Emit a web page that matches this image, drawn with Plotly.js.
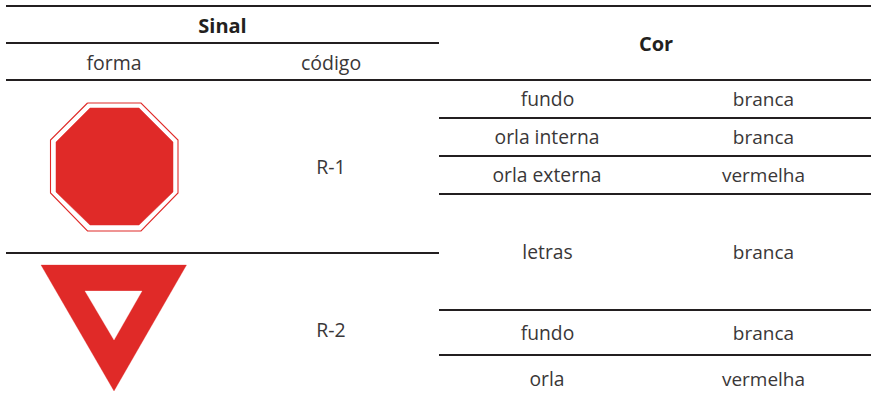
<!DOCTYPE html>
<html><head><meta charset="utf-8"><script src="https://cdn.plot.ly/plotly-3.0.1.min.js"></script>
<style>html,body{margin:0;padding:0;background:#fff}</style></head><body><div id="c" style="width:871px;height:400px"></div>
<script>
const rules = [[6,871,6],[6,439,43],[6,871,80],[439,871,118],[439,871,156],[439,871,194],[6,439,253],[439,871,310],[439,871,355]];
const headTexts = ["Sinal","Cor"], headX = [222.5,656], headY = [28,46];
const subTexts = ["forma","código","R-1","R-2"], subX = [114,331,331,331], subY = [65,65,169,332];
const col3 = ["fundo","orla interna","orla externa","letras","fundo","orla"];
const col3X = [547.5,547,547,547.5,547.5,547];
const col4 = ["branca","branca","vermelha","branca","branca","vermelha"];
const col4X = [763.5,763.5,763.5,763.5,763.5,763.5];
const rowY = [101,139,177,254,335,381];
const octOuterX = [87.5,141,178,178,141,87.5,50.5,50.5,87.5], octOuterY = [103,103,140,193,231,231,193,140,103];
const octInnerX = [90,139,173,173,139,90,56,56,90], octInnerY = [108,108,142,192,225,225,192,142,108];
const triX = [41,186.5,114,41], triY = [265,265,391,265];
const triHoleX = [85,142,114,85], triHoleY = [291,291,340,291];
const RED = "#e02a28", INK = "#231f20", TEXT = "#3a3738", FONT = "'Open Sans', sans-serif";
const poly = (x,y,fill,line,w) => ({type:"scatter",mode:"lines",x,y,fill:"toself",fillcolor:fill,line:{color:line,width:w},hoverinfo:"skip",showlegend:false});
const traces = rules.map(r => ({type:"scatter",mode:"lines",x:[r[0],r[1]],y:[r[2],r[2]],line:{color:INK,width:2},hoverinfo:"skip",showlegend:false}));
traces.push(poly(octOuterX,octOuterY,"#ffffff",RED,1.1));
traces.push(poly(octInnerX,octInnerY,RED,RED,0.5));
traces.push(poly(triX,triY,RED,RED,0.3));
traces.push(poly(triHoleX,triHoleY,"#ffffff","#ffffff",0.3));
const txt = (text,x,y,size,bold,color) => ({type:"scatter",mode:"text",x,y,text,textposition:"middle center",textfont:{family:FONT,size,color,weight:bold?700:400},hoverinfo:"skip",showlegend:false});
traces.push(txt(headTexts,headX,headY,20,true,INK));
traces.push(txt(subTexts,subX,subY,19.5,false,TEXT));
traces.push(txt(col3,col3X,rowY,19.3,false,TEXT));
traces.push(txt(col4,col4X,rowY,19,false,TEXT));
const ax = {visible:false,fixedrange:true};
Plotly.newPlot("c",traces,{width:871,height:400,margin:{l:0,r:0,t:0,b:0},paper_bgcolor:"#fff",plot_bgcolor:"#fff",
 xaxis:{...ax,range:[0,871]},yaxis:{...ax,range:[400,0]},showlegend:false},{displayModeBar:false,staticPlot:true});
</script></body></html>
